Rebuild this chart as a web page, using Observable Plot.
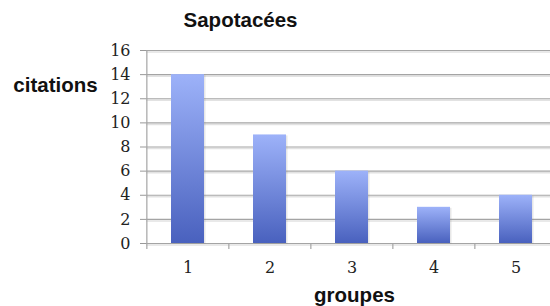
<!DOCTYPE html>
<html>
<head>
<meta charset="utf-8">
<script src="https://cdn.jsdelivr.net/npm/d3@7"></script>
<script src="https://cdn.jsdelivr.net/npm/@observablehq/plot@0.6"></script>
<style>
  html, body { margin: 0; padding: 0; background: #fff; }
  #chart svg { display: block; }
  g[aria-label*="axis"] text { fill: #222; }
</style>
</head>
<body>
<div id="chart"></div>
<script>
const groups = ["1", "2", "3", "4", "5"];
const citations = [14, 9, 6, 3, 4];
const yTicks = [0, 2, 4, 6, 8, 10, 12, 14, 16];
const title = "Sapotacées";
const yLabel = "citations";
const xLabel = "groupes";

const data = groups.map((g, i) => ({groupe: g, citations: citations[i]}));
const half = 82.3 / 2;
const labelStyle = {textAnchor: "middle", lineAnchor: "middle", fontFamily: "Liberation Sans", fontWeight: "bold", fontSize: 20.5, fill: "#111"};

const chart = Plot.plot({
  width: 550,
  height: 306,
  marginLeft: 146,
  marginRight: 0,
  marginTop: 50,
  marginBottom: 63,
  style: {fontFamily: "DejaVu Serif", fontSize: "16px", color: "#999", background: "#fff"},
  x: {domain: groups, range: [146, 557.5], paddingInner: 0.6, paddingOuter: 0.3, tickSize: 0, tickPadding: 18, label: null},
  y: {domain: [0, 16], ticks: yTicks, tickSize: 6, tickPadding: 10, label: null},
  marks: [
    Plot.ruleY(yTicks, {stroke: "#e2e2e2", strokeWidth: 1.5, dy: 1.5}),
    Plot.ruleY(yTicks, {stroke: "#a4a4a4", strokeWidth: 1.2}),
    Plot.ruleX([groups[0]], {y1: 0, y2: 16, dx: -half, stroke: "#a4a4a4", strokeWidth: 1.2}),
    Plot.ruleX(groups, {y1: 0, y2: -0.5, dx: -half, stroke: "#a4a4a4", strokeWidth: 1.2}),
    Plot.barY(data, {x: "groupe", y: "citations", fill: "#888", dx: 1.5, dy: 1, fillOpacity: 0.2}),
    Plot.barY(data, {x: "groupe", y: "citations", fill: "url(#barGrad)"}),
    Plot.text([title], {frameAnchor: "top-left", dx: 94, dy: -29.6, ...labelStyle}),
    Plot.text([yLabel], {frameAnchor: "top-left", dx: -91, dy: 35.4, ...labelStyle}),
    Plot.text([xLabel], {frameAnchor: "bottom-left", dx: 208, dy: 51.5, ...labelStyle})
  ]
});

const ns = "http://www.w3.org/2000/svg";
const defs = document.createElementNS(ns, "defs");
const grad = document.createElementNS(ns, "linearGradient");
grad.setAttribute("id", "barGrad");
grad.setAttribute("x1", "0"); grad.setAttribute("y1", "0");
grad.setAttribute("x2", "0"); grad.setAttribute("y2", "1");
[["0%", "#9db2f9"], ["100%", "#4961be"]].forEach(([o, c]) => {
  const s = document.createElementNS(ns, "stop");
  s.setAttribute("offset", o); s.setAttribute("stop-color", c);
  grad.appendChild(s);
});
defs.appendChild(grad);
const svgEl = chart.tagName.toLowerCase() === "svg" ? chart : chart.querySelector("svg");
svgEl.insertBefore(defs, svgEl.firstChild);
document.getElementById("chart").appendChild(chart);
</script>
</body>
</html>
